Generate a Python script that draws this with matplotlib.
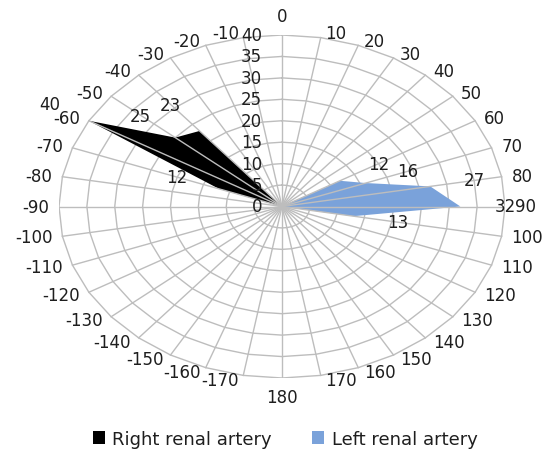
import numpy as np
import matplotlib
matplotlib.use("Agg")
import matplotlib.pyplot as plt
from matplotlib.patches import Patch

# categories clockwise from the top, as in the Excel radar
categories = [0, 10, 20, 30, 40, 50, 60, 70, 80, 90, 100, 110, 120, 130, 140, 150, 160, 170, 180,
              -170, -160, -150, -140, -130, -120, -110, -100, -90, -80, -70, -60, -50, -40, -30, -20, -10]
right_artery = [0, 0, 0, 0, 0, 0, 0, 0, 0, 0, 0, 0, 0, 0, 0, 0, 0, 0, 0,
                0, 0, 0, 0, 0, 0, 0, 0, 0, 0, 12, 40, 25, 23, 0, 0, 0]
left_artery = [0, 0, 0, 0, 0, 0, 12, 16, 27, 32, 13, 0, 0, 0, 0, 0, 0, 0, 0,
               0, 0, 0, 0, 0, 0, 0, 0, 0, 0, 0, 0, 0, 0, 0, 0, 0]
rings = [0, 5, 10, 15, 20, 25, 30, 35, 40]
series_names = ["Right renal artery", "Left renal artery"]
colors = ["#000000", "#7aa2da"]

plt.rcParams["font.family"] = ["DejaVu Sans"]
FS = 12
TXT = "#1e1e1e"
GRID = "#bdbdbd"

W, H = 546, 452
fig = plt.figure(figsize=(W / 100, H / 100), dpi=100)
# outer ring spans x 59..505 px and y 36..379 px (picture is stretched sideways)
ax = fig.add_axes([59 / W, (H - 379) / H, 446 / W, 343 / H])
ax.set_xlim(-40, 40)
ax.set_ylim(-40, 40)
ax.axis("off")

th = np.deg2rad(np.arange(len(categories)) * 10.0)
s, c = np.sin(th), np.cos(th)
s_closed = np.append(s, s[0])
c_closed = np.append(c, c[0])
rmax = rings[-1]

# rings (below the fills)
for r in rings[1:]:
    ax.plot(r * s_closed, r * c_closed, color=GRID, lw=1.0, zorder=1)

# filled series
for vals, col in zip([right_artery, left_artery], colors):
    v = np.array(vals, float)
    ax.fill(v * s, v * c, color=col, lw=0, zorder=2)

# spokes (drawn over the fills)
for si, ci in zip(s, c):
    ax.plot([0, rmax * si], [0, rmax * ci], color=GRID, lw=1.0, zorder=3)

# data labels
for vals in [right_artery, left_artery]:
    for v, si, ci in zip(vals, s, c):
        if v > 0:
            ax.annotate(str(v), xy=(v * si, v * ci), xytext=(45 * si, 34 * ci),
                        textcoords="offset pixels", ha="center", va="center",
                        fontsize=FS, color=TXT, zorder=5)

# category labels round the outside
for lab, si, ci in zip(categories, s, c):
    if abs(si) < 1e-6:
        off = (0, 19 if ci > 0 else -19)
        ha = "center"
    else:
        off = (np.sign(si) * (3 + 7 * abs(si)), 5 * ci)
        ha = "left" if si > 0 else "right"
    ax.annotate(str(lab), xy=(rmax * si, rmax * ci), xytext=off,
                textcoords="offset pixels", ha=ha, va="center",
                fontsize=FS, color=TXT, annotation_clip=False)

# radial value labels left of the vertical axis
for r in rings:
    ax.annotate(str(r), xy=(0, r), xytext=(-20, 0), textcoords="offset pixels",
                ha="right", va="center", fontsize=FS, color=TXT)

handles = [Patch(facecolor=col, edgecolor="none") for col in colors]
fig.legend(handles, series_names, loc="center", bbox_to_anchor=(285 / W, 1 - 440 / H),
           ncol=2, frameon=False, fontsize=13, handlelength=0.7, handleheight=0.7,
           handletextpad=0.4, columnspacing=2.2, labelcolor=TXT)

fig.savefig("out.png", dpi=100)
